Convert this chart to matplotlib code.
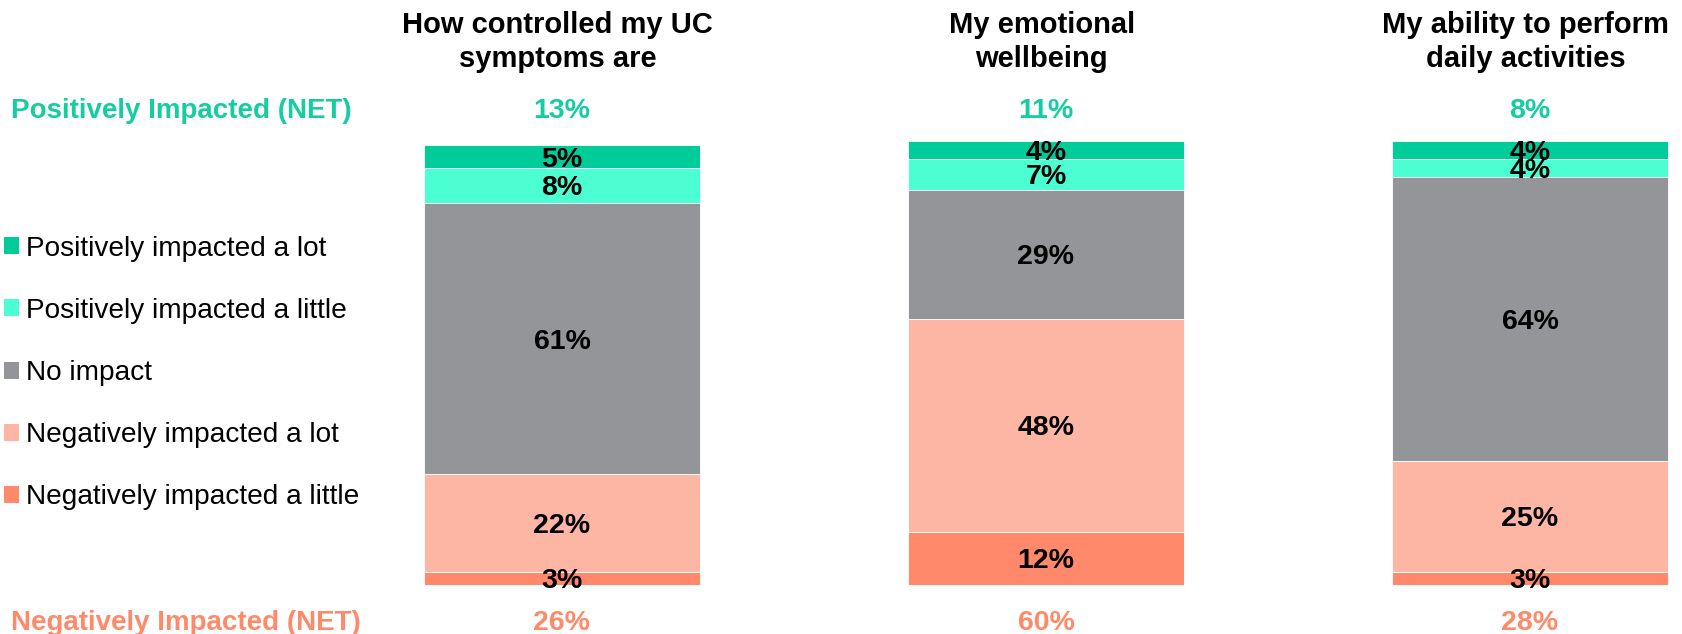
import matplotlib
matplotlib.use("Agg")
import matplotlib.pyplot as plt
from matplotlib.patches import Patch
import numpy as np

plt.rcParams['font.family'] = ['Liberation Sans', 'DejaVu Sans']

categories = ["How controlled my UC\nsymptoms are", "My emotional\nwellbeing",
              "My ability to perform\ndaily activities"]
series_names = ["Negatively impacted a little", "Negatively impacted a lot", "No impact",
                "Positively impacted a little", "Positively impacted a lot"]
neg_little = [3, 12, 3]
neg_lot = [22, 48, 25]
no_impact = [61, 29, 64]
pos_little = [8, 7, 4]
pos_lot = [5, 4, 4]
net_pos = [13, 11, 8]
net_neg = [26, 60, 28]

colors = ["#FF896A", "#FDB6A4", "#939598", "#4BFFD2", "#00CC99"]
pos_color = "#14CDA0"
neg_color = "#FF8A6A"

W, H = 1682, 634
fig = plt.figure(figsize=(W / 100, H / 100), dpi=100)
ax_left = 416.8 / W
ax_w = 1258.4 / W
ax_bottom = 49 / H
ax_h = 444 / H
ax = fig.add_axes([ax_left, ax_bottom, ax_w, ax_h])
ax.set_xlim(-0.3, 2.3)
ax.set_ylim(0, 100)
ax.axis('off')

x = np.arange(len(categories))
series = [neg_little, neg_lot, no_impact, pos_little, pos_lot]
bottom = np.zeros(len(categories))
for vals, col in zip(series, colors):
    vals = np.array(vals, dtype=float)
    ax.bar(x, vals, bottom=bottom, width=0.572, color=col, edgecolor='white',
           linewidth=0.6)
    for xi, b, v in zip(x, bottom, vals):
        ax.text(xi, b + v / 2, f"{int(v)}%", ha='center', va='center_baseline',
                fontsize=20.5, fontweight='bold', color='black')
    bottom += vals

tr = ax.get_xaxis_transform()
for xi, cat, p, n in zip(x, categories, net_pos, net_neg):
    ax.text(xi - 0.009, 1.223, cat, transform=tr, ha='center', va='center',
            fontsize=21, fontweight='bold', color='black', linespacing=1.30,
            clip_on=False)
    ax.text(xi, 1.0743, f"{p}%", transform=tr, ha='center', va='center_baseline',
            fontsize=20.5, fontweight='bold', color=pos_color, clip_on=False)
    ax.text(xi, -0.0788, f"{n}%", transform=tr, ha='center', va='center_baseline',
            fontsize=20.5, fontweight='bold', color=neg_color, clip_on=False)

fig.text(11 / W, (H - 108) / H, "Positively Impacted (NET)", ha='left',
         va='center_baseline', fontsize=20, fontweight='bold', color=pos_color)
fig.text(11 / W, (H - 620) / H, "Negatively Impacted (NET)", ha='left',
         va='center_baseline', fontsize=20, fontweight='bold', color=neg_color)

handles = [Patch(facecolor=c, edgecolor='none') for c in colors][::-1]
labels = series_names[::-1]
fig.legend(handles, labels, loc='center left', bbox_to_anchor=(4 / W, (H - 373) / H),
           frameon=False, fontsize=20.2, handlelength=0.55, handleheight=0.55,
           handletextpad=0.22, labelspacing=1.29, borderpad=0, borderaxespad=0)

fig.savefig("out.png", dpi=100)
